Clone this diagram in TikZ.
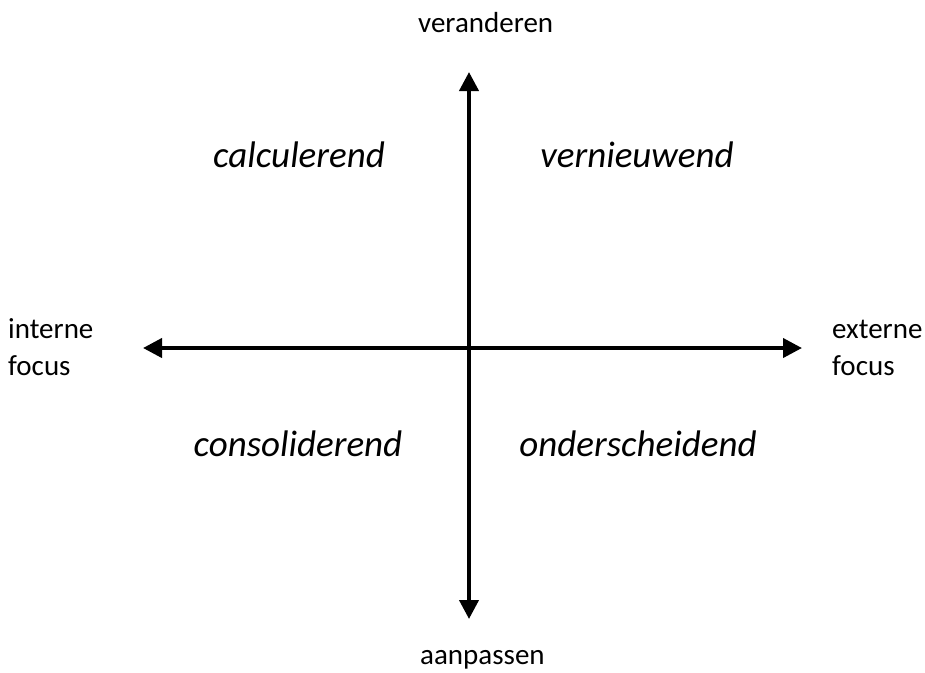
\documentclass[tikz,border=0pt]{standalone}
\usepackage{fontspec}
\setmainfont{Carlito}
\usetikzlibrary{arrows.meta}
\tikzset{
  axis/.style={line width=4pt, {Triangle[length=19pt,width=19pt]}-{Triangle[length=19pt,width=19pt]}},
  lbl/.style={font=\fontsize{29}{37}\selectfont, inner sep=0pt},
  quad/.style={font=\fontsize{37}{44}\selectfont\itshape, inner sep=0pt, anchor=base},
}
\begin{document}
\begin{tikzpicture}[x=1pt,y=-1pt]
\useasboundingbox (0,0) rectangle (925,672);
\coordinate (top) at (469,72);
\coordinate (bottom) at (469,619);
\coordinate (left) at (143,348);
\coordinate (right) at (802,348);
\draw[axis] (bottom) -- (top);
\draw[axis] (left) -- (right);
\node[lbl, anchor=base west] (ver) at (418,32) {veranderen};
\node[lbl, anchor=base west] (aan) at (420,664) {aanpassen};
\node[lbl, anchor=base west] (int) at (8,338) {interne};
\node[lbl, anchor=base west] (intf) at (8,375) {focus};
\node[lbl, anchor=base west] (ext) at (832,338) {externe};
\node[lbl, anchor=base west] (extf) at (832,375) {focus};
\node[quad] (calc) at (299,167) {calculerend};
\node[quad] (vern) at (637,167) {vernieuwend};
\node[quad] (cons) at (298,456) {consoliderend};
\node[quad] (ond) at (638,456) {onderscheidend};
\end{tikzpicture}
\end{document}
